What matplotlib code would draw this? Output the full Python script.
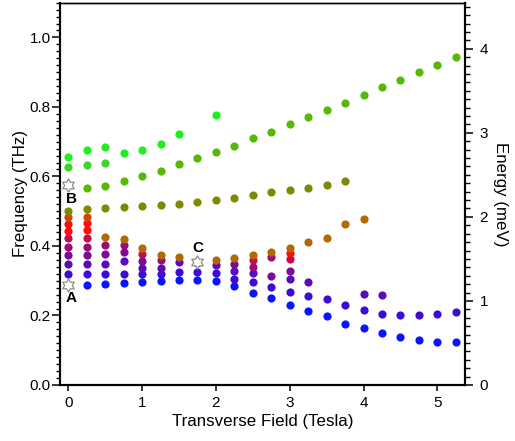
import numpy as np
import matplotlib
matplotlib.use("Agg")
import matplotlib.pyplot as plt
from matplotlib.path import Path
from matplotlib.ticker import MultipleLocator

plt.rcParams['font.family'] = ['Liberation Sans', 'DejaVu Sans']

THZ_TO_MEV = 4.1357

# ---------------- data (frequency in THz vs transverse field in Tesla) ----------------
blue_x = [0.25, 0.5, 0.75, 1.0, 1.25, 1.5, 1.75, 2.0, 2.25, 2.5, 2.75, 3.0, 3.25, 3.5, 3.75, 4.0, 4.25, 4.5, 4.75, 5.0, 5.25]
blue_y = [0.288, 0.290, 0.294, 0.295, 0.300, 0.303, 0.303, 0.298, 0.285, 0.266, 0.250, 0.230, 0.213, 0.199, 0.175, 0.163, 0.149, 0.139, 0.129, 0.123, 0.123]

indigo_x = [0, 0.25, 0.5, 0.75, 1.0, 1.25, 1.5, 1.75, 2.0, 2.25, 2.5, 2.75, 3.0, 3.25, 3.5, 3.75, 4.0, 4.25, 4.5, 4.75, 5.0, 5.25]
indigo_y = [0.318, 0.318, 0.320, 0.320, 0.320, 0.318, 0.324, 0.324, 0.323, 0.306, 0.296, 0.282, 0.268, 0.257, 0.246, 0.229, 0.216, 0.205, 0.201, 0.200, 0.205, 0.211]

violet_x = [0, 0.25, 0.5, 0.75, 1.0, 1.25, 1.5, 2.0, 2.25, 2.5, 3.0, 3.25, 4.0, 4.25]
violet_y = [0.347, 0.347, 0.349, 0.357, 0.336, 0.337, 0.355, 0.345, 0.327, 0.321, 0.304, 0.296, 0.261, 0.260]

purple_x = [0, 0.25, 0.5, 0.75, 1.0, 1.75, 2.25, 2.75, 3.0]
purple_y = [0.374, 0.374, 0.378, 0.382, 0.357, 0.350, 0.349, 0.313, 0.328]

magenta_x = [0, 0.25, 0.5, 0.75, 1.25, 2.5, 2.75]
magenta_y = [0.397, 0.397, 0.403, 0.403, 0.360, 0.340, 0.367]

crimson_x = [0, 0.25, 1.0, 2.5, 3.0]
crimson_y = [0.422, 0.424, 0.377, 0.360, 0.362]

red_x = [0, 0, 0.25, 0.25, 3.0]
red_y = [0.463, 0.443, 0.466, 0.445, 0.379]

orange_x = [0, 0.25]
orange_y = [0.482, 0.482]

brown_x = [0.5, 0.75, 1.0, 1.25, 1.5, 2.0, 2.25, 2.5, 2.75, 3.0, 3.25, 3.5, 3.75, 4.0]
brown_y = [0.425, 0.419, 0.393, 0.374, 0.367, 0.360, 0.364, 0.373, 0.383, 0.393, 0.411, 0.423, 0.463, 0.477]

olive_x = [0, 0.25, 0.5, 0.75, 1.0, 1.25, 1.5, 1.75, 2.0, 2.25, 2.5, 2.75, 3.0, 3.25, 3.5, 3.75]
olive_y = [0.502, 0.507, 0.510, 0.513, 0.516, 0.517, 0.521, 0.526, 0.532, 0.537, 0.548, 0.555, 0.562, 0.568, 0.574, 0.587]

rising_x = [0.25, 0.5, 0.75, 1.0, 1.25, 1.5, 1.75, 2.0, 2.25, 2.5, 2.75, 3.0, 3.25, 3.5, 3.75, 4.0, 4.25, 4.5, 4.75, 5.0, 5.25]
rising_y = [0.567, 0.572, 0.588, 0.600, 0.617, 0.637, 0.654, 0.671, 0.689, 0.710, 0.728, 0.750, 0.770, 0.792, 0.812, 0.834, 0.856, 0.878, 0.900, 0.922, 0.944]

second_x = [0, 0.25, 0.5]
second_y = [0.626, 0.634, 0.640]

upper_x = [0, 0.25, 0.5, 0.75, 1.0, 1.25, 1.5, 2.0]
upper_y = [0.656, 0.675, 0.685, 0.666, 0.676, 0.694, 0.723, 0.776]

# marked states
star_x = [0, 0, 1.75]
star_y = [0.288, 0.575, 0.355]
star_labels = ['A', 'B', 'C']
star_label_x = [0.04, 0.04, 1.76]
star_label_y = [0.251, 0.535, 0.393]

# ---------------- styles ----------------
series = [
    (blue_x, blue_y, '#0a14ff'),
    (indigo_x, indigo_y, '#3c0cd6'),
    (violet_x, violet_y, '#5a0cb8'),
    (purple_x, purple_y, '#7a0c96'),
    (magenta_x, magenta_y, '#9c0c78'),
    (crimson_x, crimson_y, '#c40c4c'),
    (red_x, red_y, '#ff0c0c'),
    (orange_x, orange_y, '#d2480c'),
    (brown_x, brown_y, '#b06a00'),
    (olive_x, olive_y, '#7f8a00'),
    (rising_x, rising_y, '#58b808'),
    (second_x, second_y, '#38d828'),
    (upper_x, upper_y, '#20ee20'),
]

fig = plt.figure(figsize=(5.15, 4.41), dpi=100)
ax = fig.add_axes([0.117, 0.127, 0.786, 0.867])

for xs, ys, c in series:
    ax.plot(xs, ys, linestyle='none', marker='o', ms=5.9, mew=0, color=c, zorder=3)

# hexagram marker
ang_o = np.deg2rad(90 + 60 * np.arange(6))
ang_i = ang_o + np.deg2rad(30)
verts = []
for ao, ai in zip(ang_o, ang_i):
    verts.append((np.cos(ao), np.sin(ao)))
    verts.append((0.577 * np.cos(ai), 0.577 * np.sin(ai)))
verts.append(verts[0])
hexagram = Path(verts, [Path.MOVETO] + [Path.LINETO] * 11 + [Path.CLOSEPOLY])

ax.plot(star_x, star_y, linestyle='none', marker=hexagram, ms=9.5, mfc='white',
        mec='#8c8c8c', mew=0.9, zorder=5)
for lx, ly, t in zip(star_label_x, star_label_y, star_labels):
    ax.text(lx, ly, t, ha='center', va='center', fontsize=11, fontweight='bold', zorder=6)

ax.set_xlim(-0.108, 5.375)
ax.set_ylim(0, 1.1)
ax.xaxis.set_major_locator(MultipleLocator(1))
ax.yaxis.set_major_locator(MultipleLocator(0.2))
ax.yaxis.set_minor_locator(MultipleLocator(0.02))
ax.yaxis.set_major_formatter(matplotlib.ticker.FormatStrFormatter('%.1f'))

ax.tick_params(axis='y', which='major', direction='out', length=5.5, width=1.1, labelsize=11, pad=1.5)
ax.tick_params(axis='y', which='minor', direction='out', length=3, width=1.0)
ax.tick_params(axis='x', which='major', direction='out', length=4, width=1.1, labelsize=11, pad=4)
for s in ['left', 'bottom', 'right']:
    ax.spines[s].set_linewidth(1.5)
ax.spines['top'].set_linewidth(1.0)

ax.set_xlabel('Transverse Field (Tesla)', fontsize=12.2, labelpad=3)
ax.set_ylabel('Frequency (THz)', fontsize=12.2, labelpad=1)

ax2 = ax.twinx()
ax2.set_ylim(0, 1.1 * THZ_TO_MEV)
ax2.yaxis.set_major_locator(MultipleLocator(1))
ax2.yaxis.set_minor_locator(MultipleLocator(0.1))
ax2.tick_params(axis='y', which='major', direction='out', length=6, width=1.1, labelsize=11, pad=4.5)
ax2.tick_params(axis='y', which='minor', direction='out', length=3.5, width=1.0)
for s in ['left', 'bottom', 'right']:
    ax2.spines[s].set_linewidth(1.5)
ax2.spines['top'].set_linewidth(1.0)
ax2.set_ylabel('Energy (meV)', fontsize=12.2, rotation=270, labelpad=14.5)

fig.savefig('out.png', dpi=100)
